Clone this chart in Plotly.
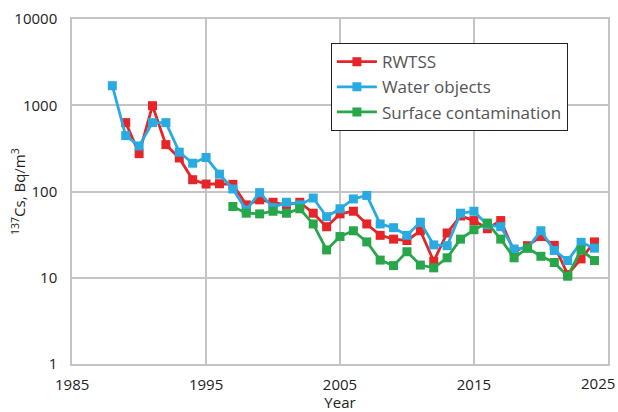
import plotly.graph_objects as go

years_red = list(range(1989, 2025))
rwtss = [630, 275, 990, 350, 245, 137, 122, 123, 121, 70, 80, 75, 70, 75, 56, 39,
         55, 59, 42, 31, 28, 27, 35, 15.5, 33, 52, 46, 37, 46, 20, 23.5, 30, 23.7,
         10.9, 16.5, 26]

years_blue = list(range(1988, 2025))
water = [1690, 445, 338, 630, 630, 286, 213, 248, 159, 107, 61, 97, 65, 75, 70, 84,
         51, 63, 82, 90, 42, 38, 31, 44, 24, 23.5, 56, 59, 41, 39, 21.5, 22, 35,
         20.7, 15.8, 25.7, 22]

years_green = list(range(1997, 2025))
surface = [67, 56, 55, 59, 56, 63, 42, 21, 30, 35, 26, 16, 13.8, 20, 14, 13, 17, 28,
           36, 43, 28, 17, 22, 17.7, 15, 10.4, 21, 15.8]

y_ticks = [1, 10, 100, 1000, 10000]
x_ticks = [1985, 1995, 2005, 2015, 2025]

series = [
    ('RWTSS', years_red, rwtss, '#e52528'),
    ('Water objects', years_blue, water, '#29abe2'),
    ('Surface contamination', years_green, surface, '#27a74a'),
]

fig = go.Figure()
for name, xs, ys, color in series:
    fig.add_trace(go.Scatter(
        x=xs, y=ys, name=name, mode='lines+markers',
        line=dict(color=color, width=2.8),
        marker=dict(symbol='square', size=9, color=color),
    ))

axis_style = dict(
    showgrid=True, gridcolor='#c4c4c4', gridwidth=1.5,
    showline=True, linecolor='#c4c4c4', linewidth=1.5, mirror=True,
    ticks='', tickfont=dict(size=15, color='#222'),
    zeroline=False, automargin=False,
)

# last year label would run off the page, so it is drawn separately below
fig.update_xaxes(
    range=[1984.99, 2025.01], tickvals=x_ticks,
    ticktext=[str(v) for v in x_ticks[:-1]] + [''],
    ticklabelstandoff=6,
    title=dict(text='Year', font=dict(size=15, color='#222'), standoff=6),
    **axis_style
)
fig.update_yaxes(
    type='log', range=[-0.002, 4.002], tickvals=y_ticks, ticktext=[str(v) for v in y_ticks],
    ticklabelstandoff=10,
    **axis_style
)

fig.add_annotation(
    text=str(x_ticks[-1]), xref='x', yref='paper', x=x_ticks[-1], y=0,
    xanchor='right', yanchor='top', xshift=9, yshift=-7,
    showarrow=False, font=dict(size=15, color='#222'),
)

# y title placed by hand so it sits where the original has it
fig.add_annotation(
    text='<sup>137</sup>Cs, Bq/m<sup>3</sup>', textangle=-90,
    xref='paper', yref='paper', x=-0.1, y=0.5, xanchor='center', yanchor='middle',
    showarrow=False, font=dict(size=15, color='#222'),
)

fig.update_layout(
    width=618, height=412,
    margin=dict(l=72, r=10, t=19, b=48),
    paper_bgcolor='white', plot_bgcolor='white',
    font=dict(family='Open Sans, Noto Sans, sans-serif'),
    legend=dict(
        x=0.483, y=0.93, xanchor='left', yanchor='top',
        bgcolor='white', bordercolor='#222', borderwidth=1,
        font=dict(size=17, color='#555'),
        itemwidth=40,
    ),
)

# drop the browser's default page margin so the figure sits at the top-left corner
fig.write_html("out.html", config={'displayModeBar': False},
               post_script="document.body.style.margin='0';")
